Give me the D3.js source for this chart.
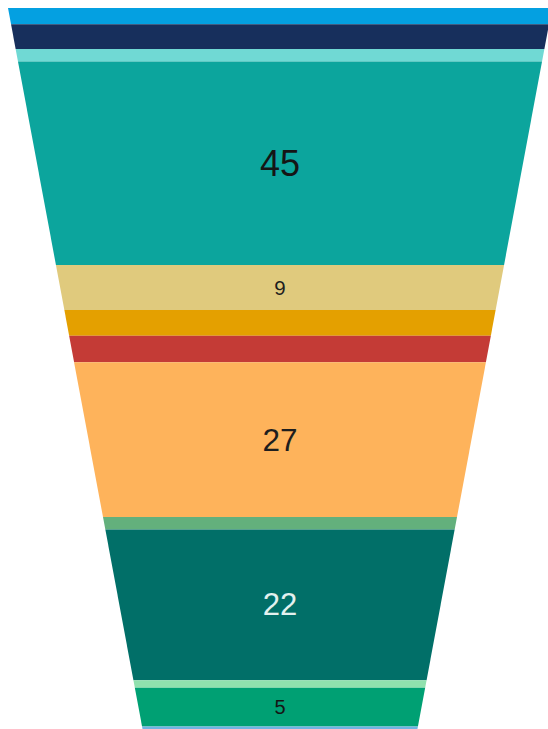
<!DOCTYPE html>
<html>
<head>
<meta charset="utf-8">
<script src="https://cdn.jsdelivr.net/npm/d3@7/dist/d3.min.js"></script>
<style>
  html, body { margin: 0; padding: 0; background: #fff; overflow: hidden; }
  svg { display: block; }
</style>
</head>
<body>
<svg id="chart" width="548" height="729"></svg>
<script>
// Funnel stages, top to bottom
const stages = ["A", "B", "C", "D", "E", "F", "G", "H", "I", "J", "K", "L", "M"];
const values = [4, 6, 3, 45, 9, 5, 5, 27, 2, 22, 1, 5, 3];
const colors = ["#04a0e1", "#172f5c", "#70d9d4", "#0ca59d", "#e0ca7d", "#e4a000",
                "#c43b36", "#feb35b", "#63b07c", "#016f68", "#90e1ae", "#00a073", "#6fb4e2"];
const labelColors = ["#222", "#fff", "#222", "#151515", "#1e1e1e", "#222",
                     "#fff", "#1e1e1e", "#222", "#e3f1ef", "#222", "#151515", "#222"];

const svg = d3.select("#chart");

// Trapezoid geometry: half width shrinks linearly with depth
const cx = 280, topY = 8, halfTop = 272, slope = 0.1866;
const unitArea = 2198; // area per unit of value

const total = d3.sum(values);
const cum = d3.cumsum(values);
const areaScale = d3.scaleLinear().domain([0, total]).range([0, total * unitArea]);

// depth at which the trapezoid area above equals a
const depthFor = a => (halfTop - Math.sqrt(halfTop * halfTop - slope * a)) / slope;
const yFor = v => topY + depthFor(areaScale(v));
const halfAt = y => halfTop - slope * (y - topY);

const segs = values.map((v, i) => {
  const y0 = yFor(i === 0 ? 0 : cum[i - 1]);
  const y1 = yFor(cum[i]);
  return { v, i, y0, y1 };
});

svg.selectAll("path.seg")
  .data(segs)
  .join("path")
  .attr("class", "seg")
  .attr("fill", d => colors[d.i])
  .attr("d", d => {
    const h0 = halfAt(d.y0), h1 = halfAt(d.y1);
    return d3.line()([[cx - h0, d.y0], [cx + h0, d.y0], [cx + h1, d.y1], [cx - h1, d.y1]]) + "Z";
  });

// label size grows with band height
const fontScale = d3.scaleLinear().domain([40, 200]).range([20, 36]).clamp(true);

svg.selectAll("text.lbl")
  .data(segs.filter(d => d.y1 - d.y0 > 30))
  .join("text")
  .attr("class", "lbl")
  .attr("x", cx)
  .attr("y", d => (d.y0 + d.y1) / 2)
  .attr("text-anchor", "middle")
  .attr("dominant-baseline", "central")
  .attr("font-family", "Liberation Sans, Arial, Helvetica, sans-serif")
  .attr("font-size", d => fontScale(d.y1 - d.y0))
  .attr("fill", d => labelColors[d.i])
  .text(d => d.v);
</script>
</body>
</html>
